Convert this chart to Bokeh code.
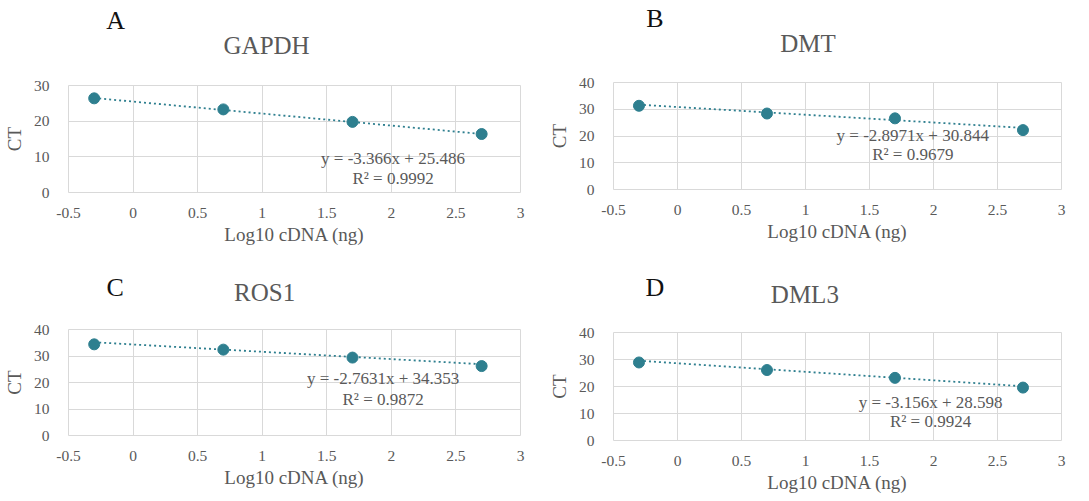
from bokeh.plotting import figure
from bokeh.layouts import column, row
from bokeh.models import Range1d, FixedTicker, CustomJSTickFormatter, Label
from bokeh.core.properties import value
from bokeh.embed import file_html
from bokeh.resources import INLINE

# ---------------- data ----------------
genes = ["GAPDH", "DMT", "ROS1", "DML3"]
letters = ["A", "B", "C", "D"]
log_cdna = [-0.301, 0.699, 1.699, 2.699]
ct_gapdh = [26.4, 23.3, 19.8, 16.4]
ct_dmt = [31.3, 28.4, 26.6, 22.2]
ct_ros1 = [34.4, 32.4, 29.4, 26.2]
ct_dml3 = [28.9, 26.1, 23.2, 19.6]
slopes = [-3.366, -2.8971, -2.7631, -3.156]
intercepts = [25.486, 30.844, 34.353, 28.598]
r2_values = ["0.9992", "0.9679", "0.9872", "0.9924"]
y_max = [30, 40, 40, 40]
x_ticks = [-0.5, 0, 0.5, 1, 1.5, 2, 2.5, 3]
ct_series = [ct_gapdh, ct_dmt, ct_ros1, ct_dml3]

# ---------------- layout / style ----------------
FONT = "Liberation Serif"
GRAY = "#595959"
GRID = "#D9D9D9"
TEAL = "#2E7F8F"

# per panel: width, left border, right border
widths = [(545, 66, 25), (544, 61, 28), (545, 66, 25), (544, 61, 28)]
# header height, chart height, chart top border, chart bottom border
heights = [(70, 180, 15, 58), (70, 180, 12, 61), (60, 190, 19, 65), (60, 190, 22, 60)]
# header text positions: (x data, y header-px from bottom)
letter_pos = [(-0.135, 50), (-0.177, 52), (-0.138, 23), (-0.177, 23)]
title_pos = [(1.034, 25), (1.020, 27), (1.019, 18), (0.995, 16)]
# equation positions in data units: x, y of equation, y of R²
eq_pos = [(2.013, 9.5, 3.9), (1.838, 20.2, 13.1), (1.936, 21.5, 13.6), (1.977, 14.1, 7.0)]


def make_header(i):
    w, bl, br = widths[i]
    hh = heights[i][0]
    h = figure(width=w, height=hh, output_backend="svg", toolbar_location=None,
               x_range=Range1d(-0.5, 3), y_range=Range1d(0, hh),
               x_axis_type=None, y_axis_type=None,
               min_border_left=bl, min_border_right=br,
               min_border_top=0, min_border_bottom=0)
    h.outline_line_color = None
    h.grid.visible = False
    lx, ly = letter_pos[i]
    h.text(x=[lx], y=[ly], text=[letters[i]], text_font=value(FONT),
           text_font_size="26px", text_color="#111111",
           text_align="center", text_baseline="middle")
    tx, ty = title_pos[i]
    h.text(x=[tx], y=[ty], text=[genes[i]], text_font=value(FONT),
           text_font_size="25px", text_color=GRAY,
           text_align="center", text_baseline="middle")
    return h


def make_panel(i):
    w, bl, br = widths[i]
    _, ch, bt, bb = heights[i]
    p = figure(width=w, height=ch, output_backend="svg", toolbar_location=None,
               x_range=Range1d(-0.5, 3), y_range=Range1d(0, y_max[i]),
               min_border_left=bl, min_border_right=br,
               min_border_top=bt, min_border_bottom=bb)
    p.outline_line_color = GRID
    p.xgrid.grid_line_color = GRID
    p.ygrid.grid_line_color = GRID
    p.xaxis.ticker = FixedTicker(ticks=x_ticks)
    p.yaxis.ticker = FixedTicker(ticks=list(range(0, y_max[i] + 1, 10)))
    p.xaxis.formatter = CustomJSTickFormatter(code="return String(tick);")
    p.yaxis.formatter = CustomJSTickFormatter(code="return String(tick);")
    for ax in (p.xaxis[0], p.yaxis[0]):
        ax.axis_line_color = None
        ax.major_tick_line_color = None
        ax.minor_tick_line_color = None
        ax.major_label_text_font = FONT
        ax.major_label_text_font_size = "15.5px"
        ax.major_label_text_color = GRAY
        ax.axis_label_text_font = FONT
        ax.axis_label_text_font_size = "19px"
        ax.axis_label_text_font_style = "normal"
        ax.axis_label_text_color = GRAY
    p.xaxis.axis_label = "Log10 cDNA (ng)"
    p.yaxis.axis_label = "CT"
    p.xaxis.major_label_standoff = 9
    p.yaxis.major_label_standoff = 13
    p.xaxis.axis_label_standoff = 3
    p.yaxis.axis_label_standoff = 6

    # trendline from the fitted equation
    x0, x1 = log_cdna[0], log_cdna[-1]
    p.line([x0, x1], [slopes[i] * x0 + intercepts[i], slopes[i] * x1 + intercepts[i]],
           line_color=TEAL, line_width=1.8, line_dash="2 3")
    p.scatter(log_cdna, ct_series[i], size=11, marker="circle",
              fill_color=TEAL, line_color=TEAL)

    ex, ey, ry = eq_pos[i]
    sign = "-" if slopes[i] < 0 else ""
    eq = f"y = {sign}{abs(slopes[i])}x + {intercepts[i]:.3f}"
    p.add_layout(Label(x=ex, y=ey, text=eq, text_font=FONT,
                       text_font_size="17px", text_color=GRAY,
                       text_align="center", text_baseline="middle"))
    p.add_layout(Label(x=ex, y=ry, text=f"R² = {r2_values[i]}", text_font=FONT,
                       text_font_size="17px", text_color=GRAY,
                       text_align="center", text_baseline="middle"))
    return p


cells = [column(make_header(i), make_panel(i)) for i in range(4)]
layout = column(row(cells[0], cells[1]), row(cells[2], cells[3]))

open("out.html", "w").write(file_html(layout, INLINE))
